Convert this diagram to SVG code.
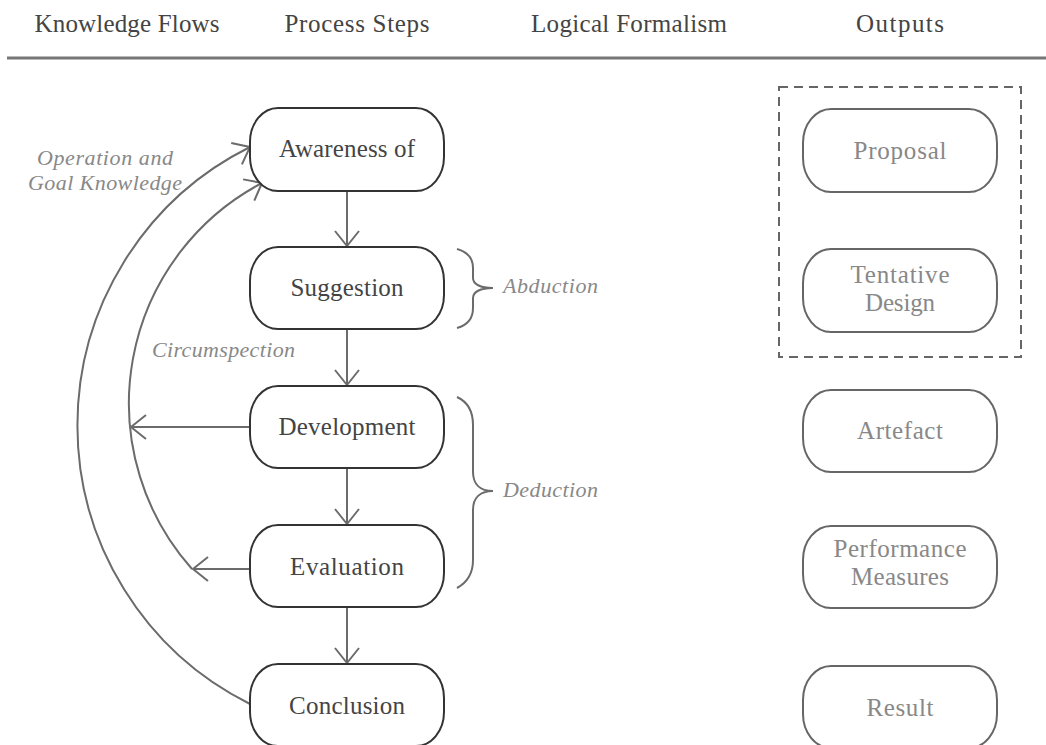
<svg xmlns="http://www.w3.org/2000/svg" width="1046" height="745" viewBox="0 0 1046 745" font-family="Liberation Serif, DejaVu Serif, serif">
  <style>
    .hdr { font-size: 25px; fill: #444; text-anchor: middle; }
    .step rect { fill: #fff; stroke: #333; stroke-width: 2; }
    .step text { font-size: 25px; fill: #444; text-anchor: middle; }
    .out rect { fill: #fff; stroke: #666; stroke-width: 2; }
    .out text { font-size: 25px; fill: #888; text-anchor: middle; }
    .lbl { font-style: italic; font-size: 22px; fill: #888; }
    .conn { fill: none; stroke: #6b6b6b; stroke-width: 2; }
    .brace { fill: none; stroke: #6b6b6b; stroke-width: 2; }
  </style>
  <defs>
    <marker id="vee" viewBox="-17 -14 19 28" markerWidth="19" markerHeight="28" refX="0" refY="0" orient="auto" markerUnits="userSpaceOnUse">
      <path d="M-15,-12 L0,0 L-15,12" fill="none" stroke="#6b6b6b" stroke-width="2"/>
    </marker>
  </defs>

  <rect width="1046" height="745" fill="#fff"/>

  <!-- column headers -->
  <g id="headers" font-family="Liberation Serif">
    <text class="hdr" x="127" y="32" textLength="185">Knowledge Flows</text>
    <text class="hdr" x="357" y="32" textLength="145">Process Steps</text>
    <text class="hdr" x="629" y="32" textLength="196">Logical Formalism</text>
    <text class="hdr" x="900" y="32" textLength="88">Outputs</text>
    <line x1="7" y1="58" x2="1046" y2="58" stroke="#777" stroke-width="3"/>
  </g>

  <!-- connectors -->
  <g id="connectors">
    <line class="conn" x1="347" y1="191" x2="347" y2="246" marker-end="url(#vee)"/>
    <line class="conn" x1="347" y1="329" x2="347" y2="385" marker-end="url(#vee)"/>
    <line class="conn" x1="347" y1="468" x2="347" y2="524" marker-end="url(#vee)"/>
    <line class="conn" x1="347" y1="607" x2="347" y2="663" marker-end="url(#vee)"/>
    <line class="conn" x1="250" y1="427" x2="131" y2="427" marker-end="url(#vee)"/>
    <line class="conn" x1="250" y1="569" x2="193" y2="569" marker-end="url(#vee)"/>
    <path class="conn" d="M192,569 A249,249 0 0 1 262,183" marker-end="url(#vee)"/>
    <path class="conn" d="M250,704 A311,311 0 0 1 250,147" marker-end="url(#vee)"/>
  </g>

  <!-- process steps -->
  <g id="awareness" class="step">
    <rect x="250" y="108" width="194" height="83" rx="28" ry="34"/>
    <text x="347" y="157" textLength="136">Awareness of</text>
  </g>
  <g id="suggestion" class="step">
    <rect x="250" y="247" width="194" height="82" rx="28" ry="34"/>
    <text x="347" y="296" textLength="113">Suggestion</text>
  </g>
  <g id="development" class="step">
    <rect x="250" y="386" width="194" height="82" rx="28" ry="34"/>
    <text x="347" y="435" textLength="137">Development</text>
  </g>
  <g id="evaluation" class="step">
    <rect x="250" y="525" width="194" height="82" rx="28" ry="34"/>
    <text x="347" y="575" textLength="114">Evaluation</text>
  </g>
  <g id="conclusion" class="step">
    <rect x="250" y="664" width="194" height="82" rx="28" ry="34"/>
    <text x="347" y="714" textLength="116">Conclusion</text>
  </g>

  <!-- knowledge flow labels -->
  <g id="flow-labels">
    <text class="lbl" x="105" y="165" text-anchor="middle" textLength="136">Operation and</text>
    <text class="lbl" x="105" y="190" text-anchor="middle" textLength="154">Goal Knowledge</text>
    <text class="lbl" x="152" y="357" textLength="143">Circumspection</text>
  </g>

  <!-- logical formalism braces -->
  <g id="abduction">
    <path class="brace" d="M457,249 C468,252 473,258 473,268 L473,278 C473,284 480,288 493,288 C480,288 473,292 473,298 L473,308 C473,318 468,325 457,328"/>
    <text class="lbl" x="503" y="293" textLength="95">Abduction</text>
  </g>
  <g id="deduction">
    <path class="brace" d="M457,397 C468,402 473,412 473,425 L473,472 C473,484 480,491 493,491 C480,491 473,498 473,510 L473,560 C473,572 468,582 457,588"/>
    <text class="lbl" x="503" y="497" textLength="95">Deduction</text>
  </g>

  <!-- outputs -->
  <rect id="design-group" x="779" y="87" width="242" height="270" fill="none" stroke="#666" stroke-width="2" stroke-dasharray="9,6"/>
  <g id="proposal" class="out">
    <rect x="803" y="109" width="194" height="83" rx="28" ry="34"/>
    <text x="900" y="159" textLength="93">Proposal</text>
  </g>
  <g id="tentative-design" class="out">
    <rect x="803" y="249" width="194" height="83" rx="28" ry="34"/>
    <text x="900" y="283" textLength="99">Tentative</text>
    <text x="900" y="311" textLength="70">Design</text>
  </g>
  <g id="artefact" class="out">
    <rect x="803" y="390" width="194" height="82" rx="28" ry="34"/>
    <text x="900" y="439" textLength="86">Artefact</text>
  </g>
  <g id="performance-measures" class="out">
    <rect x="803" y="526" width="194" height="82" rx="28" ry="34"/>
    <text x="900" y="557" textLength="133">Performance</text>
    <text x="900" y="585" textLength="98">Measures</text>
  </g>
  <g id="result" class="out">
    <rect x="803" y="666" width="194" height="82" rx="28" ry="34"/>
    <text x="900" y="716" textLength="67">Result</text>
  </g>
</svg>
